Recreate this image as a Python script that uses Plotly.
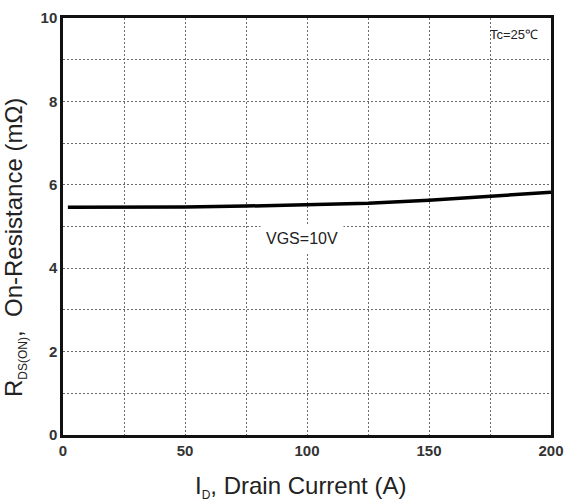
import plotly.graph_objects as go

# Drain current (A) and on-resistance (mOhm) at VGS=10V, Tc=25C
drain_current = [2, 25, 50, 75, 100, 125, 150, 175, 200]
on_resistance = [5.46, 5.46, 5.47, 5.49, 5.52, 5.56, 5.63, 5.72, 5.82]

x_ticks = [0, 50, 100, 150, 200]
y_ticks = [0, 2, 4, 6, 8, 10]

fig = go.Figure()
fig.add_trace(go.Scatter(
    x=drain_current, y=on_resistance, mode="lines",
    line=dict(color="black", width=3.5), showlegend=False,
))

grid_col = "#6a6a6a"
grid_dash = "2px,2px"
tick_font = dict(size=15, color="#333333", family="Liberation Sans, Arial, sans-serif", weight="bold")
title_font = dict(size=24, color="#222222", family="Liberation Sans, Arial, sans-serif")
sub = "<sub><span style='font-size:12px'>{}</span></sub>"

axis_common = dict(
    ticks="", zeroline=False, automargin=False,
    showline=True, linecolor="#111111", linewidth=2.5, mirror=True,
    tickfont=tick_font,
    showgrid=True, gridcolor=grid_col, griddash=grid_dash, gridwidth=1,
)

fig.update_layout(
    width=564, height=503,
    margin=dict(l=63, r=13, t=18, b=68),
    paper_bgcolor="white", plot_bgcolor="white",
    font=dict(family="Liberation Sans, Arial, sans-serif", color="#222222"),
    xaxis=dict(
        range=[0, 200], tickvals=x_ticks,
        minor=dict(dtick=25, showgrid=True, gridcolor=grid_col, griddash=grid_dash, gridwidth=1),
        **axis_common,
    ),
    yaxis=dict(
        range=[0, 10], tickvals=y_ticks,
        minor=dict(dtick=1, showgrid=True, gridcolor=grid_col, griddash=grid_dash, gridwidth=1),
        **axis_common,
    ),
    annotations=[
        # axis titles
        dict(xref="paper", yref="paper", x=0.4877, y=-0.1247,
             xanchor="center", yanchor="middle", showarrow=False,
             text="I" + sub.format("D") + ", Drain Current (A)", font=title_font),
        dict(xref="paper", yref="paper", x=-0.0984, y=0.4508, textangle=-90,
             xanchor="center", yanchor="middle", showarrow=False,
             text="R" + sub.format("DS(ON)") + ",  On-Resistance (mΩ)", font=title_font),
        # in-plot labels
        dict(x=98, y=4.72, text="VGS=10V", showarrow=False, bgcolor="white",
             borderpad=5, font=dict(size=16, color="#222222")),
        dict(x=185, y=9.6, text="Tc=25℃", showarrow=False,
             font=dict(size=13, color="#222222")),
    ],
)

fig.write_html("out.html")
